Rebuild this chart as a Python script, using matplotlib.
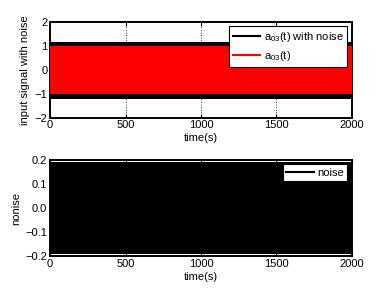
import matplotlib
matplotlib.use('Agg')
import matplotlib.pyplot as plt
from matplotlib.lines import Line2D

# values: the dense oscillations show up as solid bands,
# so only the band edges are kept
time_span = [0, 2000]
noisy_band = [-1.2, 1.18]      # a03(t) with noise
clean_band = [-1.03, 1.01]     # a03(t)
noise_band = [-0.19, 0.19]     # noise

top_yticks = [-2, -1, 0, 1, 2]
bottom_yticks = [-0.2, -0.1, 0, 0.1, 0.2]
xticks = [0, 500, 1000, 1500, 2000]

plt.rcParams['font.family'] = ['Liberation Sans', 'DejaVu Sans']
plt.rcParams['font.size'] = 8
plt.rcParams['axes.unicode_minus'] = True


def style_axes(ax, yticks, ylabel):
    ax.set_xlim(time_span)
    ax.set_xticks(xticks)
    ax.set_yticks(yticks)
    ax.set_ylim(yticks[0], yticks[-1])
    ax.tick_params(direction='in', length=3, width=0.8, top=True, right=True, pad=2)
    ax.grid(True, linestyle=':', color='0.2', linewidth=0.7)
    ax.set_axisbelow(True)
    for s in ax.spines.values():
        s.set_linewidth(1.4)
    ax.set_xlabel('time(s)', labelpad=2)
    ax.set_ylabel(ylabel, labelpad=3)


fig = plt.figure(figsize=(3.88, 2.92), dpi=100)
ax1 = fig.add_axes([0.129, 0.597, 0.778, 0.328])
ax2 = fig.add_axes([0.129, 0.123, 0.778, 0.329])

ax1.fill_between(time_span, noisy_band[0], noisy_band[1], color='black', lw=0, zorder=2)
ax1.fill_between(time_span, clean_band[0], clean_band[1], color='red', lw=0, zorder=3)
style_axes(ax1, top_yticks, 'input signal with noise')
ax1.set_yticklabels([str(v).replace('-', '\u2212') for v in top_yticks])
handles = [Line2D([], [], color='black', lw=1.5),
           Line2D([], [], color='red', lw=1.5)]
leg = ax1.legend(handles, [r'$\mathregular{a_{03}}$(t) with noise', r'$\mathregular{a_{03}}$(t)'],
                 loc='upper right', fancybox=False, framealpha=1, edgecolor='black',
                 handlelength=2.5, handletextpad=0.3, borderaxespad=0.4,
                 borderpad=0.35, labelspacing=0.45)
leg.get_frame().set_linewidth(0.8)

ax2.fill_between(time_span, noise_band[0], noise_band[1], color='black', lw=0, zorder=2)
style_axes(ax2, bottom_yticks, 'nonise')
leg2 = ax2.legend([Line2D([], [], color='black', lw=1.5)], ['noise'],
                  loc='upper right', fancybox=False, framealpha=1, edgecolor='black',
                  handlelength=2.5, handletextpad=0.3, borderaxespad=0.4,
                  borderpad=0.3)
leg2.get_frame().set_linewidth(0.8)

fig.savefig('out.png', dpi=100)
